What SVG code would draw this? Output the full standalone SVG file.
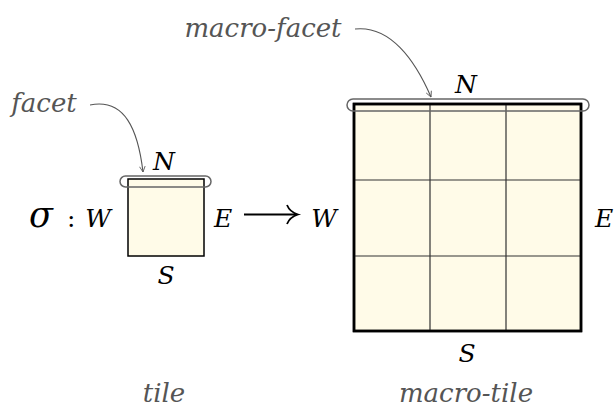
<svg xmlns="http://www.w3.org/2000/svg" width="616" height="407" viewBox="0 0 616 407">
<style>
text{font-family:"DejaVu Serif",serif;font-style:italic}
.m{fill:#000;font-size:25px}
.lbl{fill:#555;font-size:26px}
.tile{fill:#fffbe8;stroke:#000}
.grid{stroke:#333;stroke-width:1.2;fill:none}
.facet{fill:none;stroke:#666;stroke-width:1.5}
.con{fill:none;stroke:#555;stroke-width:1.1;marker-end:url(#ah)}
</style>
<defs>
<marker id="ah" viewBox="0 0 10 10" refX="9" refY="5" markerWidth="7" markerHeight="7" orient="auto" markerUnits="userSpaceOnUse">
<path d="M1,1 L9,5 L1,9" fill="none" stroke="#555" stroke-width="1.2"/>
</marker>
</defs>
<text class="m" x="29" y="227" style="font-size:35px">σ</text>
<text class="m" x="67" y="227" style="font-style:normal">:</text>
<g id="tile">
<rect class="tile" x="128" y="179" width="76" height="77" stroke-width="1.5"/>
<rect id="facet-rect" class="facet" x="120" y="176" width="91" height="11" rx="5.5"/>
<text class="m" x="98" y="227" text-anchor="middle">W</text>
<text class="m" x="223" y="227" text-anchor="middle">E</text>
<text class="m" x="164" y="170" text-anchor="middle">N</text>
<text class="m" x="166" y="284" text-anchor="middle">S</text>
</g>
<g id="arrow-sign">
<path d="M244,214.5H296" stroke="#000" stroke-width="1.8" fill="none"/>
<path d="M287,205 C289,210 293,213 298,214.5 C293,216 289,219 287,224" stroke="#000" stroke-width="1.8" fill="none"/>
</g>
<g id="macro-tile">
<rect class="tile" x="354" y="104" width="227" height="227" stroke-width="2.5"/>
<path class="grid" d="M430,104V331M506,104V331M354,180H581M354,256H581"/>
<rect x="354" y="104" width="227" height="227" stroke="#000" stroke-width="2.5" fill="none"/>
<rect id="macro-facet-rect" class="facet" x="347" y="99" width="242" height="12" rx="6"/>
<text class="m" x="324" y="227" text-anchor="middle">W</text>
<text class="m" x="604" y="227" text-anchor="middle">E</text>
<text class="m" x="466" y="93" text-anchor="middle">N</text>
<text class="m" x="467" y="362" text-anchor="middle">S</text>
</g>
<g id="labels">
<text class="lbl" x="44" y="112" text-anchor="middle">facet</text>
<text class="lbl" x="263" y="37" text-anchor="middle">macro-facet</text>
<text class="lbl" x="164" y="402" text-anchor="middle">tile</text>
<text class="lbl" x="466" y="402" text-anchor="middle">macro-tile</text>
</g>
<g id="connectors">
<path class="con" d="M90,105 C125,98 138,130 143,172"/>
<path class="con" d="M355,29 C390,25 415,60 431,97"/>
</g>
</svg>
